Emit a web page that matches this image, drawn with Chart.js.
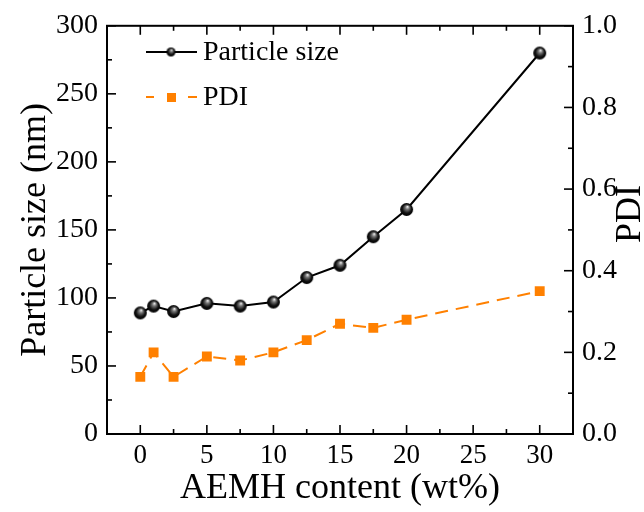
<!DOCTYPE html>
<html>
<head>
<meta charset="utf-8">
<script src="https://cdn.jsdelivr.net/npm/chart.js@4/dist/chart.umd.min.js"></script>
<style>
  html, body { margin: 0; padding: 0; background: #fff; }
  #wrap { width: 644px; height: 512px; }
</style>
</head>
<body>
<div id="wrap"><canvas id="myChart" width="644" height="512"></canvas></div>
<script>
// AEMH content (wt%)
var content = [0, 1, 2.5, 5, 7.5, 10, 12.5, 15, 17.5, 20, 30];
// particle size (nm), left axis
var particleSize = [89, 94, 90, 96, 94, 97, 115, 124, 145, 165, 280];
// PDI, right axis
var pdi = [0.14, 0.20, 0.14, 0.19, 0.18, 0.20, 0.23, 0.27, 0.26, 0.28, 0.35];

var xTicks = [0, 5, 10, 15, 20, 25, 30];
var xMinor = [-2.5, 2.5, 7.5, 12.5, 17.5, 22.5, 27.5, 32.5];
var sizeTicks = [0, 50, 100, 150, 200, 250, 300];
var sizeMinor = [25, 75, 125, 175, 225, 275];
var pdiTicks = [0, 0.2, 0.4, 0.6, 0.8, 1.0];
var pdiMinor = [0.1, 0.3, 0.5, 0.7, 0.9];

var FONT = "'Liberation Serif', 'Times New Roman', serif";
var ORANGE = '#ff8000';

// shaded black ball for the particle size points
function makeBall(r) {
	var c = document.createElement('canvas');
	var s = Math.ceil(r * 2 + 2);
	c.width = s; c.height = s;
	var g = c.getContext('2d');
	var cx = s / 2, cy = s / 2;
	var grad = g.createRadialGradient(cx + r * 0.15, cy - r * 0.45, 0, cx, cy, r);
	grad.addColorStop(0, '#ffffff');
	grad.addColorStop(0.3, '#777777');
	grad.addColorStop(0.7, '#111111');
	grad.addColorStop(1, '#000000');
	g.fillStyle = grad;
	g.beginPath();
	g.arc(cx, cy, r, 0, Math.PI * 2);
	g.fill();
	return c;
}
var ball = makeBall(6.5);
var smallBall = makeBall(4.5);

function pts(ys) {
	var out = [];
	for (var i in content) out.push({x: content[i], y: ys[i]});
	return out;
}

var framePlugin = {
	id: 'frame',
	afterDraw: function(chart) {
		var ctx = chart.ctx;
		var a = chart.chartArea;
		var sx = chart.scales.x, sl = chart.scales.y, sr = chart.scales.y1;
		ctx.save();
		ctx.strokeStyle = '#000';
		ctx.lineWidth = 2;
		ctx.strokeRect(a.left, a.top, a.right - a.left, a.bottom - a.top);

		ctx.lineWidth = 1.6;
		function tick(x1, y1, x2, y2) {
			ctx.beginPath(); ctx.moveTo(x1, y1); ctx.lineTo(x2, y2); ctx.stroke();
		}
		xTicks.forEach(function(v) {
			var p = sx.getPixelForValue(v);
			tick(p, a.bottom, p, a.bottom - 9);
			tick(p, a.top, p, a.top + 9);
		});
		xMinor.forEach(function(v) {
			var p = sx.getPixelForValue(v);
			tick(p, a.bottom, p, a.bottom - 5);
			tick(p, a.top, p, a.top + 5);
		});
		sizeTicks.forEach(function(v) {
			var p = sl.getPixelForValue(v);
			tick(a.left, p, a.left + 9, p);
		});
		sizeMinor.forEach(function(v) {
			var p = sl.getPixelForValue(v);
			tick(a.left, p, a.left + 5, p);
		});
		pdiTicks.forEach(function(v) {
			var p = sr.getPixelForValue(v);
			tick(a.right, p, a.right - 9, p);
		});
		pdiMinor.forEach(function(v) {
			var p = sr.getPixelForValue(v);
			tick(a.right, p, a.right - 5, p);
		});

		// axis titles
		ctx.fillStyle = '#000';
		ctx.font = '36px ' + FONT;
		ctx.textAlign = 'center';
		ctx.textBaseline = 'alphabetic';
		ctx.fillText('AEMH content (wt%)', (a.left + a.right) / 2, 498);
		ctx.save();
		ctx.translate(45, (a.top + a.bottom) / 2);
		ctx.rotate(-Math.PI / 2);
		ctx.fillText('Particle size (nm)', 0, 0);
		ctx.restore();
		ctx.save();
		ctx.translate(640, 214);
		ctx.rotate(-Math.PI / 2);
		ctx.fillText('PDI', 0, 0);
		ctx.restore();

		// legend
		ctx.textAlign = 'left';
		ctx.textBaseline = 'middle';
		ctx.font = '28px ' + FONT;
		ctx.strokeStyle = '#000';
		ctx.lineWidth = 2;
		ctx.setLineDash([]);
		tick(146, 52, 197, 52);
		ctx.drawImage(smallBall, 171 - smallBall.width / 2, 52 - smallBall.height / 2);
		ctx.fillText('Particle size', 203, 53);

		ctx.strokeStyle = ORANGE;
		tick(146, 97, 154, 97);
		tick(188, 97, 197, 97);
		ctx.fillStyle = ORANGE;
		ctx.fillRect(167, 93, 9, 9);
		ctx.fillStyle = '#000';
		ctx.fillText('PDI', 203, 98);
		ctx.restore();
	}
};

var chartdata = {
	datasets: [
		{
			label: 'Particle size',
			data: pts(particleSize),
			yAxisID: 'y',
			borderColor: '#000',
			borderWidth: 2,
			pointStyle: ball,
			pointRadius: 7,
			fill: false,
			tension: 0
		},
		{
			label: 'PDI',
			data: pts(pdi),
			yAxisID: 'y1',
			borderColor: ORANGE,
			backgroundColor: ORANGE,
			borderWidth: 2,
			borderDash: [13, 8],
			pointStyle: 'rect',
			pointRadius: 7,
			pointBorderWidth: 0,
			fill: false,
			tension: 0
		}
	]
};

var ctx = document.getElementById('myChart');
var chart = new Chart(ctx, {
	type: 'line',
	data: chartdata,
	plugins: [framePlugin],
	options: {
		responsive: false,
		animation: false,
		layout: { padding: { top: 18, left: 0, right: 0, bottom: 0 } },
		plugins: { legend: { display: false }, tooltip: { enabled: false } },
		scales: {
			x: {
				type: 'linear',
				min: -2.5, max: 32.5,
				grid: { display: false, drawTicks: false },
				border: { display: false },
				afterBuildTicks: function(s) { s.ticks = xTicks.map(function(v) { return {value: v}; }); },
				afterFit: function(s) { s.height = 78; },
				ticks: { color: '#000', font: { size: 27, family: FONT }, padding: 6, maxRotation: 0 }
			},
			y: {
				position: 'left',
				min: 0, max: 300,
				grid: { display: false, drawTicks: false },
				border: { display: false },
				afterBuildTicks: function(s) { s.ticks = sizeTicks.map(function(v) { return {value: v}; }); },
				afterFit: function(s) { s.width = 107; },
				ticks: { color: '#000', font: { size: 28, family: FONT }, padding: 9 }
			},
			y1: {
				position: 'right',
				min: 0, max: 1,
				grid: { display: false, drawTicks: false },
				border: { display: false },
				afterBuildTicks: function(s) { s.ticks = pdiTicks.map(function(v) { return {value: v}; }); },
				afterFit: function(s) { s.width = 71; },
				ticks: {
					color: '#000', font: { size: 28, family: FONT }, padding: 9,
					callback: function(v) { return v.toFixed(1); }
				}
			}
		}
	}
});
</script>
</body>
</html>
